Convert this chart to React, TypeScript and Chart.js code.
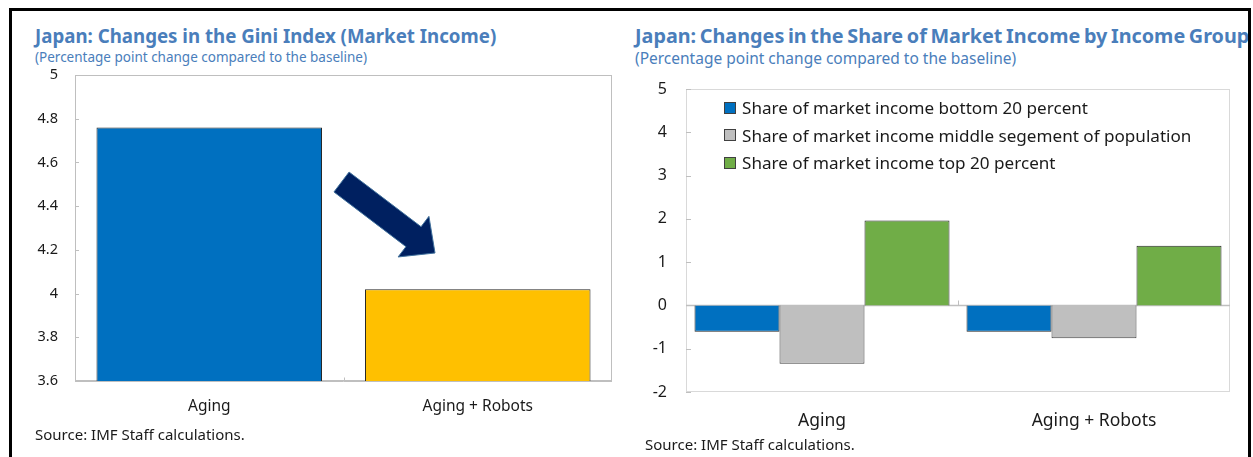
import React, { useEffect, useRef } from "react";
import { Chart, registerables } from "chart.js";

Chart.register(...registerables);

// ---------------- Data ----------------
const giniCategories: string[] = ["Aging", "Aging + Robots"];
const giniValues: number[] = [4.76, 4.02];
const giniBarColors: string[] = ["#0070C0", "#FFC000"];
const giniAxisMin = 3.6;
const giniAxisMax = 5;
const giniAxisStep = 0.2;

const shareCategories: string[] = ["Aging", "Aging + Robots"];
const shareSeriesNames: string[] = [
  "Share of market income bottom 20 percent",
  "Share of market income middle segement of population",
  "Share of market income top 20 percent",
];
const shareBottom20: number[] = [-0.61, -0.61];
const shareMiddle: number[] = [-1.35, -0.76];
const shareTop20: number[] = [1.96, 1.38];
const shareColors: string[] = ["#0070C0", "#BFBFBF", "#70AD47"];
const shareAxisMin = -2;
const shareAxisMax = 5;
const shareAxisStep = 1;

const leftTitle = "Japan: Changes in the Gini Index (Market Income)";
const rightTitle = "Japan: Changes in the Share of Market Income by Income Group";
const subTitle = "(Percentage point change compared to the baseline)";
const sourceText = "Source: IMF Staff calculations.";

// ---------------- Styling ----------------
const FONT = '"Noto Sans", "Open Sans", sans-serif';
const TITLE_COLOR = "#4A7EBB";
const TEXT_COLOR = "#1A1A1A";

const fmt = (v: number) => String(Number(Number(v).toFixed(2)));

const noScalePadding = (s: any) => {
  s.paddingTop = 0;
  s.paddingBottom = 0;
  s.paddingLeft = 0;
  s.paddingRight = 0;
};

// Plot frame, inner tick marks, base line and category boundary ticks
const plotFramePlugin = {
  id: "plotFrame",
  beforeDatasetsDraw(chart: any, _args: any, opts: any) {
    const { ctx, chartArea: a, scales } = chart;
    const y = scales.y;
    const x = scales.x;
    ctx.save();
    ctx.lineWidth = 1;
    ctx.strokeStyle = opts.borderColor;
    ctx.strokeRect(a.left + 0.5, a.top + 0.5, a.width - 1, a.height - 1);
    ctx.strokeStyle = opts.tickColor;
    y.ticks.forEach((t: any) => {
      const py = Math.round(y.getPixelForValue(t.value)) + 0.5;
      ctx.beginPath();
      ctx.moveTo(a.left, py);
      ctx.lineTo(a.left + opts.tickLen, py);
      ctx.stroke();
    });
    const by = Math.round(y.getPixelForValue(opts.baseValue)) + 0.5;
    ctx.strokeStyle = opts.axisColor;
    ctx.lineWidth = opts.axisWidth;
    ctx.beginPath();
    ctx.moveTo(a.left, by);
    ctx.lineTo(a.right, by);
    ctx.stroke();
    ctx.lineWidth = 1;
    ctx.strokeStyle = opts.tickColor;
    const n = x.ticks.length;
    for (let i = 1; i < n; i++) {
      const px =
        Math.round((x.getPixelForValue(i - 1) + x.getPixelForValue(i)) / 2) + 0.5;
      ctx.beginPath();
      ctx.moveTo(px, by);
      ctx.lineTo(px, by - opts.tickLen);
      ctx.stroke();
    }
    ctx.restore();
  },
};

// Block arrow placed in fractions of the plot area
const arrowPlugin = {
  id: "trendArrow",
  afterDatasetsDraw(chart: any, _args: any, opts: any) {
    if (!opts || !opts.display) return;
    const { ctx, chartArea: a } = chart;
    const x0 = a.left + opts.from[0] * a.width;
    const y0 = a.top + opts.from[1] * a.height;
    const x1 = a.left + opts.to[0] * a.width;
    const y1 = a.top + opts.to[1] * a.height;
    const L = Math.hypot(x1 - x0, y1 - y0);
    const ux = (x1 - x0) / L;
    const uy = (y1 - y0) / L;
    const px = -uy;
    const py = ux;
    const hs = opts.shaftWidth / 2;
    const hh = opts.headWidth / 2;
    const bx = x1 - ux * opts.headLength;
    const byy = y1 - uy * opts.headLength;
    ctx.save();
    ctx.beginPath();
    ctx.moveTo(x0 + px * hs, y0 + py * hs);
    ctx.lineTo(bx + px * hs, byy + py * hs);
    ctx.lineTo(bx + px * hh, byy + py * hh);
    ctx.lineTo(x1, y1);
    ctx.lineTo(bx - px * hh, byy - py * hh);
    ctx.lineTo(bx - px * hs, byy - py * hs);
    ctx.lineTo(x0 - px * hs, y0 - py * hs);
    ctx.closePath();
    ctx.fillStyle = opts.fill;
    ctx.fill();
    ctx.lineWidth = 1;
    ctx.strokeStyle = opts.stroke;
    ctx.stroke();
    ctx.restore();
  },
};

function GiniChart() {
  const ref = useRef<HTMLCanvasElement | null>(null);
  useEffect(() => {
    if (!ref.current) return;
    const chart = new Chart(ref.current, {
      type: "bar",
      data: {
        labels: giniCategories,
        datasets: [
          {
            label: "Gini",
            data: giniValues,
            backgroundColor: giniBarColors,
            borderColor: "#262626",
            borderWidth: 1,
            categoryPercentage: 0.84,
            barPercentage: 1,
          },
        ],
      },
      options: {
        responsive: false,
        maintainAspectRatio: false,
        animation: false,
        layout: { padding: { left: 0, top: 15, right: 8, bottom: 0 } },
        plugins: {
          legend: { display: false },
          tooltip: { enabled: false },
          plotFrame: {
            borderColor: "#BFBFBF",
            tickColor: "#BFBFBF",
            axisColor: "#BFBFBF",
            axisWidth: 1,
            tickLen: 4,
            baseValue: giniAxisMin,
          },
          trendArrow: {
            display: true,
            from: [0.4963, 0.3497],
            to: [0.6704, 0.5817],
            shaftWidth: 25,
            headWidth: 51,
            headLength: 27,
            fill: "#002060",
            stroke: "#41719C",
          },
        } as any,
        scales: {
          x: {
            grid: { display: false, drawTicks: false },
            border: { display: false },
            ticks: {
              color: TEXT_COLOR,
              font: { family: FONT, size: 15.5 },
              padding: 16,
            },
            afterFit: (s: any) => {
              s.height = 49;
              noScalePadding(s);
            },
          },
          y: {
            min: giniAxisMin,
            max: giniAxisMax,
            grid: { display: false, drawTicks: false },
            border: { display: false },
            ticks: {
              stepSize: giniAxisStep,
              color: TEXT_COLOR,
              font: { family: FONT, size: 14.5 },
              padding: 17,
              callback: (v: any) => fmt(v),
            },
            afterFit: (s: any) => {
              s.width = 75;
              noScalePadding(s);
            },
          },
        },
      },
      plugins: [plotFramePlugin, arrowPlugin],
    } as any);
    return () => chart.destroy();
  }, []);
  return (
    <canvas
      ref={ref}
      width={620}
      height={370}
      style={{ position: "absolute", left: 0, top: 60, width: 620, height: 370 }}
    />
  );
}

function ShareChart() {
  const ref = useRef<HTMLCanvasElement | null>(null);
  useEffect(() => {
    if (!ref.current) return;
    const series = [shareBottom20, shareMiddle, shareTop20];
    const chart = new Chart(ref.current, {
      type: "bar",
      data: {
        labels: shareCategories,
        datasets: series.map((d, i) => ({
          label: shareSeriesNames[i],
          data: d,
          backgroundColor: shareColors[i],
          borderColor: i === 1 ? "#404040" : "#262626",
          borderWidth: 1,
          categoryPercentage: 0.9375,
          barPercentage: 1,
        })),
      },
      options: {
        responsive: false,
        maintainAspectRatio: false,
        animation: false,
        layout: { padding: { left: 0, top: 19, right: 23, bottom: 0 } },
        plugins: {
          legend: { display: false },
          tooltip: { enabled: false },
          plotFrame: {
            borderColor: "#D9D9D9",
            tickColor: "#BFBFBF",
            axisColor: "#BFBFBF",
            axisWidth: 1.5,
            tickLen: 5,
            baseValue: 0,
          },
        } as any,
        scales: {
          x: {
            grid: { display: false, drawTicks: false },
            border: { display: false },
            ticks: {
              color: TEXT_COLOR,
              font: { family: FONT, size: 17.5 },
              padding: 19,
            },
            afterFit: (s: any) => {
              s.height = 48;
              noScalePadding(s);
            },
          },
          y: {
            min: shareAxisMin,
            max: shareAxisMax,
            grid: { display: false, drawTicks: false },
            border: { display: false },
            ticks: {
              stepSize: shareAxisStep,
              color: TEXT_COLOR,
              font: { family: FONT, size: 16 },
              padding: 19,
              callback: (v: any) => fmt(v),
            },
            afterFit: (s: any) => {
              s.width = 66;
              noScalePadding(s);
            },
          },
        },
      },
      plugins: [plotFramePlugin],
    } as any);
    return () => chart.destroy();
  }, []);
  return (
    <canvas
      ref={ref}
      width={633}
      height={370}
      style={{ position: "absolute", left: 620, top: 70, width: 633, height: 370 }}
    />
  );
}

const abs = (s: React.CSSProperties): React.CSSProperties => ({
  position: "absolute",
  whiteSpace: "nowrap",
  ...s,
});

export default function App() {
  useEffect(() => {
    document.body.style.margin = "0";
  }, []);
  return (
    <div
      style={{
        position: "relative",
        width: 1253,
        height: 457,
        overflow: "hidden",
        background: "#FFFFFF",
        fontFamily: FONT,
      }}
    >
      {/* Left panel */}
      <div style={abs({ left: 35, top: 26, fontSize: 18.7, lineHeight: "20px", fontWeight: 700, color: TITLE_COLOR })}>
        {leftTitle}
      </div>
      <div style={abs({ left: 35, top: 49, fontSize: 13.5, lineHeight: "16px", color: TITLE_COLOR })}>
        {subTitle}
      </div>
      <GiniChart />
      <div style={abs({ left: 35, top: 425, fontSize: 15, lineHeight: "18px", color: TEXT_COLOR })}>
        {sourceText}
      </div>

      {/* Right panel */}
      <div style={abs({ left: 635, top: 25, fontSize: 19.8, lineHeight: "21px", fontWeight: 700, color: TITLE_COLOR, wordSpacing: "-1.5px" })}>
        {rightTitle}
      </div>
      <div style={abs({ left: 635, top: 49, fontSize: 15.5, lineHeight: "18px", color: TITLE_COLOR })}>
        {subTitle}
      </div>
      <ShareChart />
      <div style={abs({ left: 724, top: 99 })}>
        {shareSeriesNames.map((name, i) => (
          <div
            key={name}
            style={{ display: "flex", alignItems: "center", height: 17, marginBottom: 10.5, fontSize: 17.1, color: TEXT_COLOR }}
          >
            <span
              style={{
                display: "inline-block",
                width: 10,
                height: 10,
                background: shareColors[i],
                border: "1px solid #404040",
                marginRight: 6,
              }}
            />
            <span>{name}</span>
          </div>
        ))}
      </div>
      <div style={abs({ left: 645, top: 435, fontSize: 15, lineHeight: "18px", color: TEXT_COLOR })}>
        {sourceText}
      </div>

      {/* Outer frame */}
      <div style={abs({ left: 9, top: 8, width: 1242, height: 3, background: "#000" })} />
      <div style={abs({ left: 9, top: 8, width: 3, height: 449, background: "#000" })} />
      <div style={abs({ left: 1248, top: 8, width: 3, height: 449, background: "#000" })} />
      <div style={abs({ left: 1251, top: 0, width: 2, height: 457, background: "#FFF" })} />
    </div>
  );
}
